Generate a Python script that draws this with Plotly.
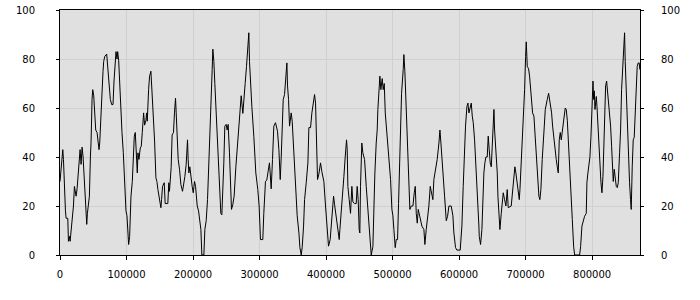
import plotly.graph_objects as go

# segment 1
x_seg1 = [0,4200,5200,6700,8200,9200,11700,12700,14200,15200,16700,17700,19200,20200,21700,24200,25700,27700,29200,30200,31700,33200,34700,36200,37700,39200,40200,41200,42700,44200,45700,46700,48200,49200,50700,52200,53700,55700,57200,58700,59700,60700,61700,63200,64700,65700,67200,70200,71200,72700,74200,75700,77700,79700,81200,82700,84200,85700,86700,88200,89700,91700,93200,95200,96700,97700,99200,100700,102200,103200,104700,105700,106700,108700,110200,111700,113200,114700,116200,117200,118700,120700,122200,123700,124700,125700,127200,129200,130200,131200,133200,134700,136700,138200,139700,141200,142200,144200,145700,147200,149700,151700,152700,154200,156700]
y_seg1 = [30,43,39,24,18,15,15,5.6,7.6,5.6,10,10.5,16.5,20,28,24,27,33.5,39,43,37,44,40,33,25,16,12.5,17,21,24,40,46,63.5,67.5,65,58,51,50,45,43,45.7,52.5,60,67.5,75,79,81,82,78.4,71.6,67.5,63.5,61.4,61.4,71,79,83,80,83,79.5,69,60.7,50,41.7,30.8,24.7,18,16,8.4,4.3,7.6,16,24,30,41.7,48.5,50,40.5,33.5,41.7,39,43.7,44.4,50,54,58,53,55,58,54.6,67.5,73,75,67.5,63.5,52.6,46.5,31.5,30,26.7,22,19.3,22.6,28,29.5]

# segment 2
x_seg2 = [158100,162100,163600,164600,167100,168600,170600,172100,173700,174700,176200,177700,179700,181700,184200,185700,187700,189700,191700,192700,193700,195200,197200,198700,200300,202300,203800,204800,206300,208300,210300,211800,213300,216300,217800,219800,221800,223800,225800,227300,228800,229800,231300,232800,234800,236800,238300,240300,241800,243300,244300,246300,247800,249800,251300,252800,254800,256300,257800,259800,261800,264400,267400,269900,272400,274900,276400,278400,280400,282400,283900,284900,286400,288400,291400,294400,297400,299400,301400,304900,306400,308900,310900,313400,314900]
y_seg2 = [21,21,29.5,26,35.6,49,50,58,64,58,47,39,35,28.8,26,28,32,37,47,39,33.5,36,30,28,25.4,30,28,25.4,20,18,14.5,10.4,0,0,10.4,14,22.6,36,52.6,63.5,75.7,84,79,70,59,48.5,36,25.4,17,16.4,22.6,37.6,52.6,53.3,51,53.3,41.7,30.8,18.6,20.6,24,36,48.5,55,65,57.8,62,70,77,87,90.7,79,70,60.7,48.5,33.5,26.7,20,6.3,6.3,17,30,30.6,36,37.6]

# segment 3
x_seg3 = [316000,317500,319500,321500,324000,327000,329100,331100,332600,334100,335600,337600,339100,341100,342100,343600,345100,347600,349100,351600,354600,356600,359200,360700,362700,364200,366200,367700,370200,372700,374200,376700,378700,382700,384200,385700,387200,389200,391700,393700,395200,396700,399200,401700,403700,406200,407800,409800,411300,412800,414800,417800,419800,420800,422800,424800,426800,428800,430800,431800,432800,434800,436800,438800,440300,442800,445300,446800,448300,449800,450800,451800,453800,455300,457900,460400,461900,464400,466400,467900,470400,471900]
y_seg3 = [33.5,27,39,52.6,54,50.5,43,30.8,40,50,63.5,65.5,73,78.4,69,63.5,52.6,58,54.6,40,28,16,9,3,0,3.4,11.8,22.6,29.5,37.6,52,52,58,65.5,62,50,30.8,33,37.6,34,30.8,30,20,10.4,3.6,6.3,13,21,24,20.6,17,11.8,6.3,10.4,17,22.6,32,40,47,43,28,22.6,17,28,21.7,21,21,28,22.6,10.4,9,28,45.7,41.7,39,28,22.6,14.5,4.9,0,3.4,22.6]

# segment 4
x_seg4 = [473400,475400,476900,477900,479400,480900,482400,484400,485900,487500,489000,491500,494500,497000,499000,500500,502000,504000,505500,507500,509000,511500,513500,516000,517000,518500,520000,521500,523500,524500,526000,528100,530600,532600,534100,535600,537100,538600,540100,542100,544100,547100,548600,550600,552600,554600,556600,558600,560600,562100,564600,567100,569700,571200,572700,574700,576200,578200,580700,582700,584700,588200,590700,592200,594700,596700,601700,604200,606200,607700,609700,611800,613300,614800,616800,618300,619800,621300,623300,625800,628300,629800]
y_seg4 = [33.5,45.7,51,59.4,69,73,67.5,72,67.5,70,58,50,40,30.8,18.6,16,10.4,3,6.3,6.3,21,44,66,75.7,81.8,75,63.5,52.6,39,27,18.6,20,20,25.4,28,17,13,18.6,17,14.5,11.8,10.4,4.3,10.4,14.5,20,28,25.4,22.6,30.8,35,39,45.7,51,45.7,36,29.5,24,14,15.8,20,20,16,9,3,2,2,11.8,28,43,52.6,60.7,62,58,60,62,56.7,54,47,33.5,25.4,11.8]

# segment 5
x_seg5 = [630300,632300,634300,635800,637300,638800,640300,642300,643800,645300,646800,648400,649900,650900,652400,653400,654900,656400,657400,658400,659900,661400,663400,664900,666400,668400,670400,672400,673900,678400,680400,682400,683900,685400,686400,688400,690500,691500,693500,695000,697000,698500,700000,701000,702500,704500,706000,708500,710500,712500,714500,716000,717500,718500,720000,721500,723000,725000,726600,728100,729600,731100,732600,734600,736100,737600,739100,740600,742600,744100,746100,747600,749100,750600,752100,753600,755100,756600,758100,759600,761100,762700,764200,766200,768200,770200,772200,773700,781200,782700,784700,786700]
y_seg5 = [7.6,4.3,10.4,22.6,33.5,37.6,40,40,48.5,43,37.6,36,47,54,59.4,51,44.4,37.6,33.5,24,14.5,10.4,17,21,25.4,22.6,20,26.7,19.3,20,26.7,30.8,36,33.5,30.8,28,22.6,26.7,37.6,47,58,67.5,81,87,77,76,73,62,58,56.7,47,39,35,32,24,22.6,26.7,39,50,52.6,59.4,62,63.5,66,63.5,59.4,58,52.6,47,41.7,39,36,33.5,47,50,47,51,55,56.7,60,59.4,55,47,35,20,14.5,3.6,0,0,3.4,11.8,14.5]

# segment 6
x_seg6 = [788700,791200,792200,793700,795200,796700,798300,799300,800300,801300,802300,803300,804300,805300,806300,807300,809300,810800,812300,813300,814800,816300,817800,819300,820300,821800,823300,824800,826300,827800,829300,830300,831800,833300,834800,836300,837800,839300,841300,842800,844300,845800,847300,848800,849800,851300,852300,853800,855300,856300,857800,858800,860300,861800,863300,864800,866300,867800,869300,870800,871800]
y_seg6 = [15.8,17,29.5,33.5,37.6,40,48.5,55,63.5,71,63.5,67,59.4,64,64.7,60.7,50,37.6,32,29.5,25.4,32,45.7,62,69,71,66.5,63.5,58,52.6,44.4,39,30,35,31,28,27.5,29.5,41.7,51,67.5,77,86.6,90.7,79,66.5,60.7,48.5,40,29.5,22.6,18.6,36,47,48,56.7,67.5,77,78.4,78.4,75.7]

segs = [(x_seg1, y_seg1), (x_seg2, y_seg2), (x_seg3, y_seg3),
        (x_seg4, y_seg4), (x_seg5, y_seg5), (x_seg6, y_seg6)]
xs, ys = [], []
for i, (a, b) in enumerate(segs):
    assert len(a) == len(b), (i, len(a), len(b))
    xs += a
    ys += b

x_range = [0, 872000]
y_ticks = [0, 20, 40, 60, 80, 100]
x_ticks = [0, 100000, 200000, 300000, 400000, 500000, 600000, 700000, 800000]

fig = go.Figure()
fig.add_trace(go.Scatter(x=xs, y=ys, mode="lines",
                         line=dict(color="black", width=1), showlegend=False,
                         hoverinfo="skip"))
fig.add_trace(go.Scatter(x=[], y=[], yaxis="y2", showlegend=False))

font = dict(family="DejaVu Sans", size=10, color="black")
fig.update_layout(
    width=700, height=300,
    margin=dict(l=60, r=60, t=10, b=45, autoexpand=False),
    paper_bgcolor="white", plot_bgcolor="#e0e0e0",
    font=font, showlegend=False,
    xaxis=dict(range=x_range, tickvals=x_ticks, tickformat="d",
               ticks="outside", ticklen=4, tickcolor="black",
               showline=True, linecolor="black", mirror=True,
               gridcolor="#d0d0d0", zeroline=False, ticklabelstandoff=6,
               automargin=False),
    yaxis=dict(range=[0, 100], tickvals=y_ticks, ticks="outside", ticklen=3,
               tickcolor="black", showline=True, linecolor="black",
               gridcolor="#d0d0d0", zeroline=False, ticklabelstandoff=19,
               automargin=False),
    yaxis2=dict(range=[0, 100], tickvals=y_ticks, ticks="outside", ticklen=3,
                tickcolor="black", overlaying="y", side="right",
                showline=True, linecolor="black", showgrid=False,
                zeroline=False, ticklabelstandoff=15, automargin=False),
)
fig.write_html("out.html")
